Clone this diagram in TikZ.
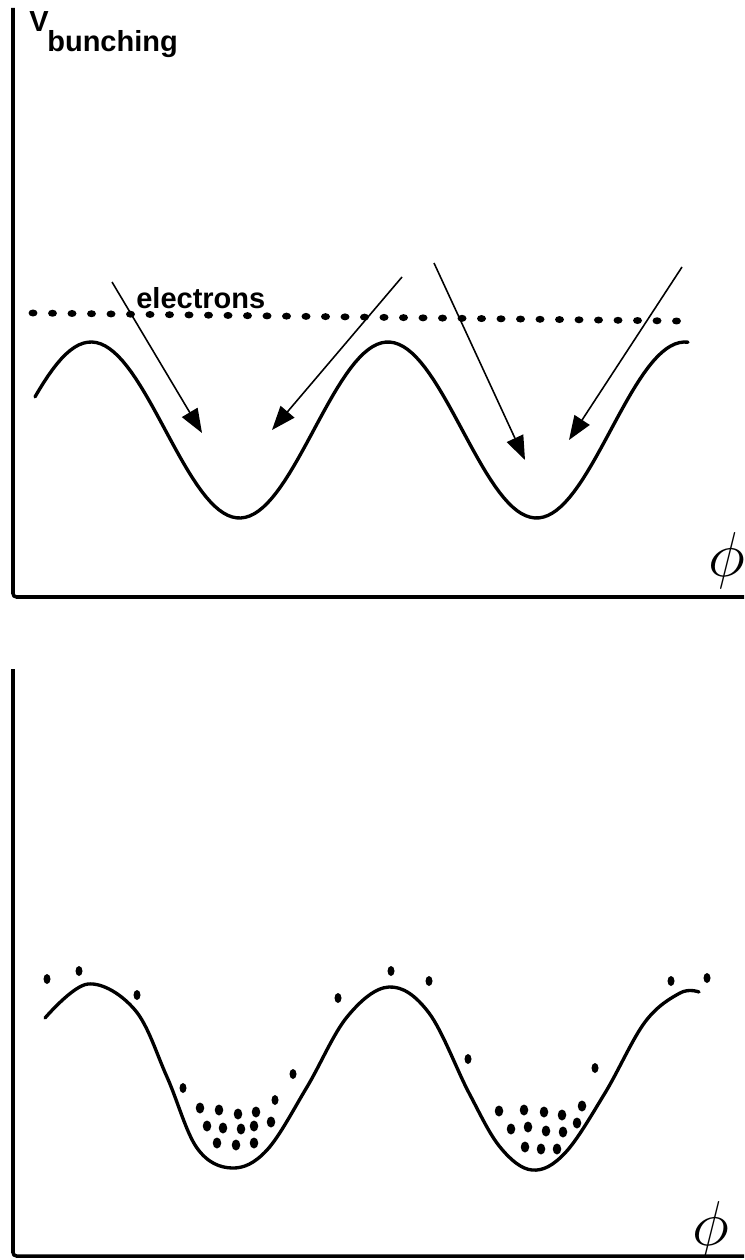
\documentclass[tikz,border=0pt]{standalone}
\usepackage{fontspec}
\setmainfont{Liberation Sans}
\usetikzlibrary{arrows.meta}

\begin{document}
\begin{tikzpicture}[
    x=0.02cm, y=-0.02cm,
    axis/.style={line width=2pt, rounded corners=2pt},
    curve/.style={line width=1.9pt, line join=round, line cap=round},
    arr/.style={-{Triangle[length=4.8mm, width=3.6mm]}, line width=0.9pt},
    lbl/.style={font=\fontsize{16.5}{18}\selectfont\bfseries, inner sep=0pt},
    phil/.style={font=\Huge, scale=1.45, inner sep=0pt},
]
\useasboundingbox (0,0) rectangle (744,1260);

% upper panel
\draw[axis] (13,8) |- (744,597);
\node[lbl, anchor=base west] (vsym)  at (29,32) {V};
\node[lbl, anchor=base west] (bunch) at (47,52) {bunching};
\node[phil] (phitop) at (727,561) {$\phi$};

\draw[curve] plot[domain=35:688, samples=150] (\x, {430-88*cos(1.21212*(\x-91))});

% electron beam
\foreach \i in {0,...,33}
  \fill ({33+\i*19.5},{313+\i*8/33}) ellipse [x radius=0.09cm, y radius=0.07cm];
\node[lbl, anchor=base west] (elec) at (136,309) {electrons};

\coordinate (in1) at (112,282); \coordinate (tip1) at (202,433);
\coordinate (in2) at (402,277); \coordinate (tip2) at (272,430);
\coordinate (in3) at (434,263); \coordinate (tip3) at (525,460);
\coordinate (in4) at (682,267); \coordinate (tip4) at (569,440);
\draw[arr] (in1) -- (tip1);
\draw[arr] (in2) -- (tip2);
\draw[arr] (in3) -- (tip3);
\draw[arr] (in4) -- (tip4);

% lower panel
\draw[axis] (13,669) |- (744,1256);
\node[phil] (phibot) at (711,1230) {$\phi$};

\draw[curve] plot[smooth, tension=0.6] coordinates {(45,1018) (88,984) (135,1010)
    (167,1077) (197,1148) (232,1168) (267,1150) (307,1087) (347,1017) (389,987)
    (429,1013) (469,1093) (500,1147) (532,1170) (565,1153) (605,1093) (645,1022)
    (680,993) (699,992)};

% bunched electrons
\foreach \x/\y in {47/979, 79/971, 137/995, 183/1088, 293/1074, 275/1100, 338/998,
    391/971, 429/981, 468/1059, 595/1068, 671/981, 707/978}
  \fill (\x,\y) ellipse [x radius=0.07cm, y radius=0.1cm];
\foreach \x/\y in {200/1108, 219/1110, 238/1114, 256/1112,
    207/1126, 223/1128, 241/1129, 254/1126, 271/1122,
    217/1143, 236/1145, 254/1143,
    499/1111, 524/1110, 544/1112, 562/1115, 582/1106,
    511/1129, 528/1127, 546/1131, 563/1132, 577/1123,
    525/1147, 541/1149, 557/1149}
  \fill (\x,\y) ellipse [x radius=0.085cm, y radius=0.11cm];
\end{tikzpicture}
\end{document}
